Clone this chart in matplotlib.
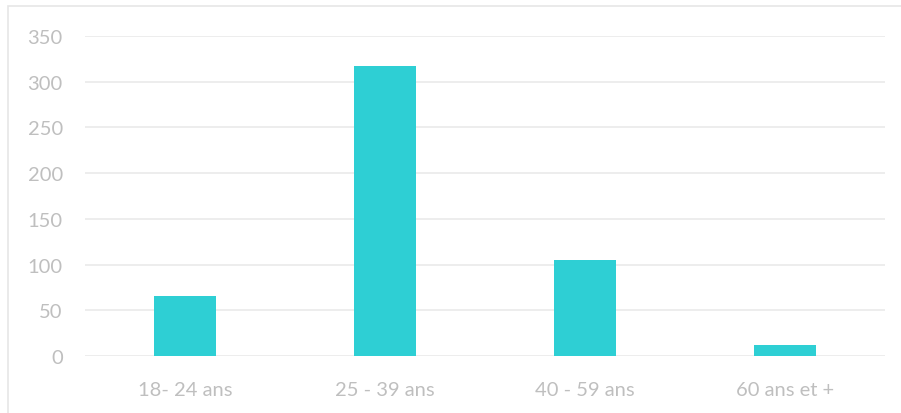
import matplotlib.pyplot as plt
from matplotlib.patches import Rectangle
import numpy as np

categories = ["18- 24 ans", "25 - 39 ans", "40 - 59 ans", "60 ans et +"]
values = [66, 317, 105, 12]
yticks = [0, 50, 100, 150, 200, 250, 300, 350]

W, H = 901, 414
fig = plt.figure(figsize=(W / 100, H / 100), dpi=100)
plt.rcParams["font.family"] = ["Lato", "DejaVu Sans"]

# cadre gris clair autour du graphique
fig.patches.append(Rectangle((8 / W, -0.1), 1.2, (1 - 7 / H) + 0.1,
                             transform=fig.transFigure, fill=False,
                             edgecolor="#e6e6e6", linewidth=1.2))

ax = fig.add_axes([85 / W, 1 - 357 / H, 800 / W, 320 / H])
x = np.arange(len(categories))
ax.bar(x, values, width=0.31, color="#2ecfd4", zorder=3)

ax.set_xlim(-0.5, len(categories) - 0.5)
ax.set_ylim(0, 350)
ax.set_yticks(yticks)
ax.set_xticks(x)
ax.set_xticklabels(categories)
ax.grid(axis="y", color="#ececec", linewidth=1.3, zorder=0)
ax.tick_params(axis="both", length=0, colors="#bfbfbf", labelsize=14.5)
ax.tick_params(axis="y", pad=16)
ax.tick_params(axis="x", pad=18)
for s in ax.spines.values():
    s.set_visible(False)

fig.savefig("out.png", dpi=100)
